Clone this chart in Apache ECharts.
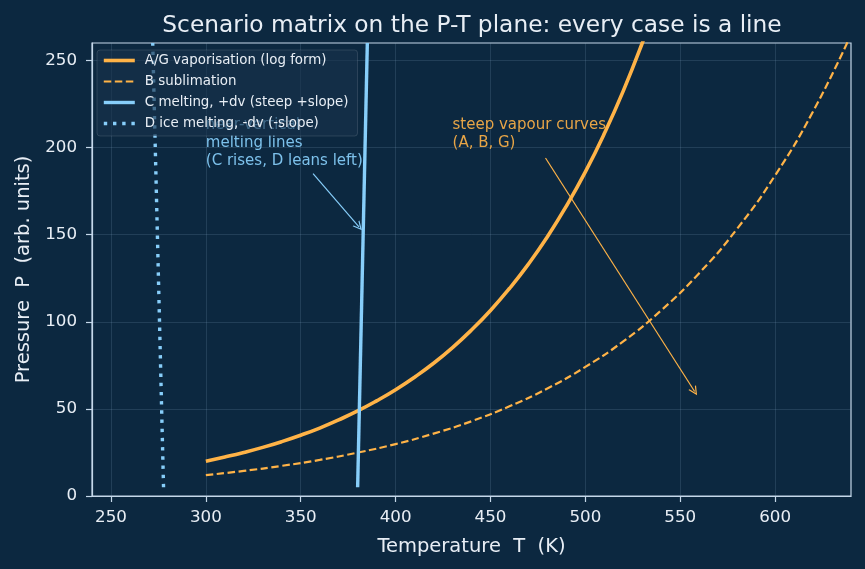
<!DOCTYPE html>
<html>
<head>
<meta charset="utf-8">
<title>P-T scenario matrix</title>
<script src="https://cdn.jsdelivr.net/npm/echarts@6/dist/echarts.min.js"></script>
<style>
  html, body { margin: 0; padding: 0; background: #0c2840; }
  #chart { width: 865px; height: 569px; }
</style>
</head>
<body>
<div id="chart"></div>
<script>
// A/G vaporisation curve
var tempA = [300, 310, 320, 330, 340, 350, 360, 370, 380, 390, 400, 410, 420, 430, 440, 450, 460, 470, 480, 490, 500, 510, 520, 530, 540]
var presA = [20, 22.4, 25, 27.9, 31.2, 34.9, 39, 43.7, 48.8, 54.6, 61, 68.2, 76.2, 85.2, 95.3, 106.5, 119.1, 133.1, 148.8, 166.4, 186, 208, 232.5, 260, 290]
// B sublimation (dashed)
var tempB = [300, 320, 340, 360, 380, 400, 420, 440, 460, 480, 500, 520, 540, 560, 580, 600, 620, 640]
var presB = [12, 14.4, 17.3, 20.7, 24.9, 29.8, 35.8, 42.9, 51.5, 61.7, 74.1, 88.8, 106.6, 127.9, 153.4, 184, 220.7, 264.8]
// C melting, D ice melting (near vertical)
var tempC = [380, 385.1]
var presC = [5, 260]
var tempD = [277.7, 272]
var presD = [5, 260]

var xTicks = [250, 300, 350, 400, 450, 500, 550, 600]
var yTicks = [0, 50, 100, 150, 200, 250]

var names = [
  'A/G vaporisation (log form)',
  'B sublimation',
  'C melting, +dv (steep +slope)',
  'D ice melting, -dv (-slope)'
]
var widths = [3.6, 2.2, 3.4, 3.4]

var ORANGE = '#ffb347'
var BLUE = '#87cefa'
var FG = '#e8eef5'
var AXIS = '#c5d8ea'
var FONT = 'DejaVu Sans'
// open "->" arrow head
var ARROW = 'path://M5,0 L10,10 L8.5,10 L5,3 L1.5,10 L0,10 Z'

function pairs(xs, ys) {
  return xs.map(function (x, i) { return [x, ys[i]] })
}

var myChart = echarts.init(document.getElementById('chart'))

var option = {
  backgroundColor: '#0c2840',
  animation: false,
  textStyle: { fontFamily: FONT },
  title: {
    text: 'Scenario matrix on the P-T plane: every case is a line',
    left: 467,
    textAlign: 'center',
    top: 9,
    textStyle: { color: FG, fontSize: 23.3, fontWeight: 'normal', fontFamily: FONT }
  },
  legend: {
    orient: 'vertical',
    left: 97,
    top: 50,
    padding: [4, 9, 6, 5],
    itemGap: 8,
    itemWidth: 31,
    itemHeight: 10,
    backgroundColor: 'rgba(24,50,76,0.62)',
    borderColor: 'rgba(255,255,255,0.12)',
    borderWidth: 1,
    borderRadius: 3,
    z: 10,
    itemStyle: { opacity: 0 },
    textStyle: { color: FG, fontSize: 13.4, fontFamily: FONT, padding: [0, 0, 0, 5] },
    data: names.map(function (n, i) {
      return { name: n, lineStyle: { width: widths[i] } }
    })
  },
  grid: {
    left: 92, right: 14, top: 43, bottom: 73,
    show: true,
    borderColor: AXIS,
    borderWidth: 1.2,
    backgroundColor: 'transparent'
  },
  xAxis: {
    type: 'value',
    min: 240,
    max: 640,
    name: 'Temperature  T  (K)',
    nameLocation: 'middle',
    nameGap: 41,
    nameTextStyle: { color: FG, fontSize: 19.5, fontFamily: FONT },
    axisLine: { show: true, lineStyle: { color: AXIS, width: 1.2 } },
    axisTick: { show: true, length: 6, customValues: xTicks, lineStyle: { color: AXIS, width: 1.2 } },
    axisLabel: { color: FG, fontSize: 16.7, margin: 13, customValues: xTicks },
    splitLine: { show: true, lineStyle: { color: 'rgba(140,170,200,0.18)', width: 1 } }
  },
  yAxis: {
    type: 'value',
    min: 0,
    max: 260,
    interval: 50,
    name: 'Pressure  P  (arb. units)',
    nameLocation: 'middle',
    nameGap: 57,
    nameTextStyle: { color: FG, fontSize: 19.5, fontFamily: FONT },
    axisLine: { show: true, lineStyle: { color: AXIS, width: 1.2 } },
    axisTick: { show: true, length: 6, customValues: yTicks, lineStyle: { color: AXIS, width: 1.2 } },
    axisLabel: { color: FG, fontSize: 16.7, margin: 15, customValues: yTicks },
    splitLine: { show: true, lineStyle: { color: 'rgba(140,170,200,0.18)', width: 1 } }
  },
  series: [
    {
      name: names[0],
      type: 'line',
      smooth: true,
      symbol: 'none',
      clip: true,
      z: 3,
      lineStyle: { color: ORANGE, width: widths[0] },
      itemStyle: { color: ORANGE },
      data: pairs(tempA, presA),
      markLine: {
        silent: true,
        symbol: ['none', ARROW],
        symbolSize: [9, 9],
        label: { show: false },
        lineStyle: { color: ORANGE, width: 1.2, type: 'solid' },
        data: [[{ coord: [479, 194] }, { coord: [557.6, 60] }]]
      }
    },
    {
      name: names[1],
      type: 'line',
      smooth: true,
      symbol: 'none',
      clip: true,
      z: 3,
      lineStyle: { color: ORANGE, width: widths[1], type: [7.5, 3.5] },
      itemStyle: { color: ORANGE },
      data: pairs(tempB, presB)
    },
    {
      name: names[2],
      type: 'line',
      symbol: 'none',
      clip: true,
      z: 3,
      lineStyle: { color: BLUE, width: widths[2] },
      itemStyle: { color: BLUE },
      data: pairs(tempC, presC),
      markLine: {
        silent: true,
        symbol: ['none', ARROW],
        symbolSize: [9, 9],
        label: { show: false },
        lineStyle: { color: BLUE, width: 1.2, type: 'solid' },
        data: [[{ coord: [356.5, 185] }, { coord: [380.7, 154.5] }]]
      }
    },
    {
      name: names[3],
      type: 'line',
      symbol: 'none',
      clip: true,
      z: 3,
      lineStyle: { color: BLUE, width: widths[3], type: [3.4, 5.8] },
      itemStyle: { color: BLUE },
      data: pairs(tempD, presD)
    }
  ]
}

myChart.setOption(option)

// annotation texts, anchored at data coordinates (baseline of last line)
var p1 = myChart.convertToPixel({ gridIndex: 0 }, [300, 190])
var p2 = myChart.convertToPixel({ gridIndex: 0 }, [430, 200])
myChart.setOption({
  graphic: [
    {
      type: 'text', x: p1[0], y: p1[1] + 5, z: 2, silent: true,
      style: {
        text: 'near-vertical\nmelting lines\n(C rises, D leans left)',
        fill: BLUE, opacity: 0.92, font: '15px "DejaVu Sans"', lineHeight: 18,
        textAlign: 'left', textVerticalAlign: 'bottom'
      }
    },
    {
      type: 'text', x: p2[0], y: p2[1] + 5, z: 2, silent: true,
      style: {
        text: 'steep vapour curves\n(A, B, G)',
        fill: ORANGE, opacity: 0.9, font: '15px "DejaVu Sans"', lineHeight: 18,
        textAlign: 'left', textVerticalAlign: 'bottom'
      }
    }
  ]
})
</script>
</body>
</html>
